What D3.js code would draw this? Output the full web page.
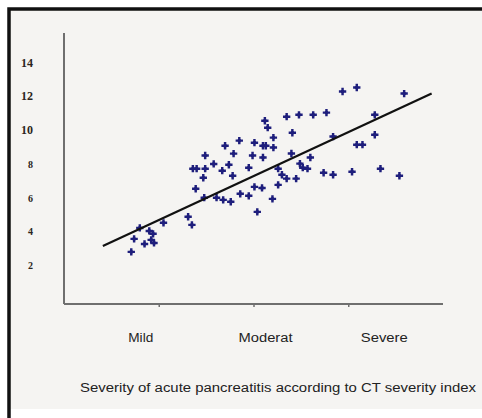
<!DOCTYPE html>
<html>
<head>
<meta charset="utf-8">
<script src="https://cdn.jsdelivr.net/npm/d3@7"></script>
<style>
  html, body { margin: 0; padding: 0; background: #ffffff; }
  svg { display: block; }
</style>
</head>
<body>
<svg id="chart" width="482" height="418"></svg>
<script>
// categories on the x axis (CT severity index groups)
const categories = ["Mild", "Moderat", "Severe"];
const categoryPos = [1, 2, 3];
const yTicks = [2, 4, 6, 8, 10, 12, 14];

// scatter values
const xValues = [0.71, 0.74, 0.80, 0.85, 0.90, 0.92, 0.94, 0.95, 1.05, 1.31, 1.35, 1.39, 1.36, 1.40,
  1.47, 1.49, 1.49, 1.48, 1.58, 1.61, 1.67, 1.68, 1.70, 1.74, 1.76, 1.78, 1.79, 1.85, 1.86, 1.95,
  1.95, 2.01, 1.99, 2.01, 2.04, 2.09, 2.10, 2.10, 2.13, 2.12, 2.15, 2.21, 2.21, 2.20, 2.26, 2.26,
  2.30, 2.35, 2.41, 2.40, 2.35, 2.45, 2.48, 2.49, 2.52, 2.57, 2.60, 2.63, 2.77, 2.74, 2.84, 2.84,
  2.94, 3.04, 3.09, 3.09, 3.15, 3.28, 3.28, 3.34, 3.54, 3.59];
const yValues = [2.78, 3.55, 4.20, 3.25, 4.02, 3.49, 3.85, 3.31, 4.50, 4.86, 4.38, 6.52, 7.71, 7.71,
  7.17, 8.49, 7.71, 5.99, 7.99, 5.99, 7.59, 5.86, 9.07, 7.94, 5.75, 7.29, 8.60, 9.37, 6.22, 6.10,
  7.77, 9.25, 8.49, 6.63, 5.15, 6.57, 8.37, 9.07, 9.07, 10.55, 10.14, 9.55, 8.96, 5.92, 6.75, 7.71,
  7.35, 10.79, 9.84, 8.61, 7.12, 7.12, 10.90, 8.01, 7.77, 7.71, 8.37, 10.90, 11.03, 7.47, 9.61, 7.35,
  12.28, 7.53, 12.52, 9.13, 9.13, 10.90, 9.72, 7.71, 7.29, 12.16];

// fitted trend line end points
const trendX = [0.41, 3.88];
const trendY = [3.13, 12.16];

const titleText = "Severity of acute pancreatitis according to CT severity index";

const svg = d3.select("#chart");

// panel background and frame
svg.append("rect")
  .attr("x", 9).attr("y", 9)
  .attr("width", 480).attr("height", 400)
  .attr("fill", "#f5f4f2");
svg.append("path")
  .attr("d", "M9,418 L9,9 L482,9")
  .attr("fill", "none")
  .attr("stroke", "#111")
  .attr("stroke-width", 3.5);

let x = d3.scaleLinear().domain([0, 4]).range([64, 443]);
let y = d3.scaleLinear().domain([0, 14]).range([298.8, 62.5]);

// axes
let axisColor = "#6f6f6f";
svg.append("line")
  .attr("x1", 64).attr("x2", 64)
  .attr("y1", 33).attr("y2", 304)
  .attr("stroke", axisColor).attr("stroke-width", 2);

let xAxis = svg.append("g").attr("transform", "translate(0,304)");
xAxis.call(d3.axisBottom(x).tickValues(categoryPos).tickSize(3).tickFormat(""));
xAxis.select(".domain").remove();
xAxis.selectAll("line").attr("stroke", axisColor).attr("stroke-width", 1.5);
xAxis.append("line")
  .attr("x1", 64).attr("x2", 443)
  .attr("stroke", axisColor).attr("stroke-width", 2);

// y tick labels
svg.selectAll("text.ytick")
  .data(yTicks)
  .enter()
  .append("text")
  .attr("class", "ytick")
  .attr("x", 33)
  .attr("y", function(d) { return y(d) + 4; })
  .attr("text-anchor", "end")
  .attr("font-family", "Liberation Serif, serif")
  .attr("font-weight", "bold")
  .attr("font-size", function(d) { return d >= 10 ? 12 : 10; })
  .attr("fill", "#2a2420")
  .text(function(d) { return d; });

// category labels (sit a bit off the ticks in the original)
let labelShift = [-18, 12, 36];
let labelWidth = [25, 54, 47];
svg.selectAll("text.xcat")
  .data(categories)
  .enter()
  .append("text")
  .attr("class", "xcat")
  .attr("x", function(d, i) { return x(categoryPos[i]) + labelShift[i]; })
  .attr("y", 342)
  .attr("text-anchor", "middle")
  .attr("font-family", "Liberation Sans, Arial, sans-serif")
  .attr("font-size", 12)
  .attr("fill", "#222")
  .attr("textLength", function(d, i) { return labelWidth[i]; })
  .attr("lengthAdjust", "spacingAndGlyphs")
  .text(function(d) { return d; });

svg.append("text")
  .attr("x", 80)
  .attr("y", 392)
  .attr("font-family", "Liberation Sans, Arial, sans-serif")
  .attr("font-size", 12.5)
  .attr("fill", "#222")
  .attr("textLength", 396)
  .attr("lengthAdjust", "spacingAndGlyphs")
  .text(titleText);

// points
let points = xValues.map(function(v, i) { return { x: v, y: yValues[i] }; });
let pts = svg.append("g").selectAll("g")
  .data(points)
  .enter()
  .append("g")
  .attr("transform", function(d) { return "translate(" + x(d.x) + "," + y(d.y) + ")"; });
pts.append("path")
  .attr("d", d3.symbol().type(d3.symbolCross).size(30))
  .attr("fill", "#1e1e7c");
pts.append("path")
  .attr("d", d3.symbol().type(d3.symbolSquare).size(9))
  .attr("fill", "#1e1e7c");

// trend line
let line = d3.line()
  .x(function(d) { return x(d[0]); })
  .y(function(d) { return y(d[1]); });
svg.append("path")
  .datum(trendX.map(function(v, i) { return [v, trendY[i]]; }))
  .attr("d", line)
  .attr("fill", "none")
  .attr("stroke", "#111")
  .attr("stroke-width", 2.2);
</script>
</body>
</html>
